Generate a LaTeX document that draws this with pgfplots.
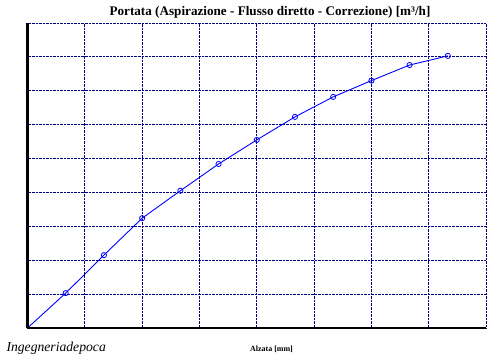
\documentclass[border=0pt]{standalone}
\usepackage{fontspec}
\setmainfont{Liberation Serif}
\usepackage{pgfplots}
\pgfplotsset{compat=1.18}
\definecolor{gridblue}{RGB}{0,0,128}
\begin{document}
\begin{tikzpicture}[x=1bp,y=1bp]
\useasboundingbox (0,0) rectangle (500,358);
\begin{axis}[
  at={(27.5bp,30bp)}, anchor=south west,
  scale only axis, width=458.5bp, height=305bp,
  xmin=0, xmax=12, ymin=0, ymax=9,
  xtick={0,1.5,...,12}, ytick={0,1,...,9},
  xticklabels={}, yticklabels={},
  major tick length=0pt,
  grid=major,
  major grid style={densely dotted, gridblue, line width=0.8pt},
  axis lines=left,
  axis line style={-, black, line width=2.2pt},
  axis on top,
  clip=false,
]
\addplot[blue, line width=0.9pt, mark=o, mark size=2.6bp, mark indices={2,3,4,5,6,7,8,9,10,11,12}, mark options={solid, line width=0.8pt}] coordinates {
(0,0) (1,1.03) (2,2.15) (3,3.24) (4,4.05) (5,4.84) (6,5.55) (7,6.23) (8,6.82) (9,7.30) (10,7.76) (11,8.03)
};
\end{axis}
\node[font=\fontsize{13.2}{15}\selectfont\bfseries] at (270,346) {Portata (Aspirazione - Flusso diretto - Correzione) [m³/h]};
\node[font=\fontsize{8}{9}\selectfont\bfseries] at (271.5,8.5) {Alzata [mm]};
\node[font=\fontsize{13.7}{15}\selectfont\itshape, anchor=west] at (3,10) {Ingegneriadepoca};
\end{tikzpicture}
\end{document}
